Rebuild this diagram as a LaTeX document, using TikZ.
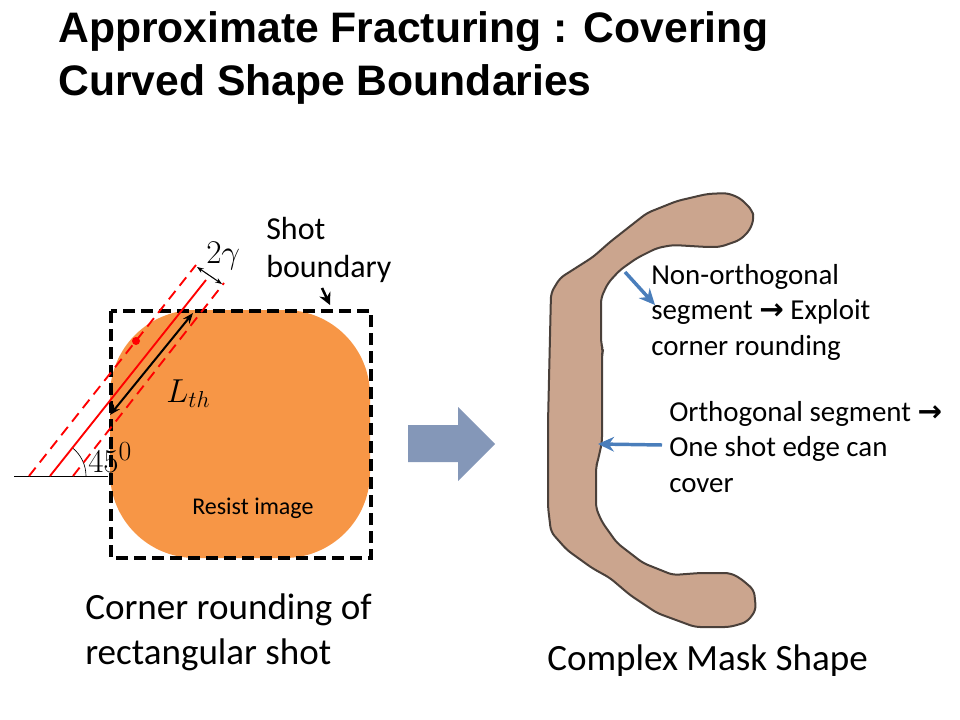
\documentclass[tikz,border=0pt]{standalone}
\usepackage{fontspec}
\setmainfont{Carlito}
\newfontfamily\titlefont{Liberation Sans}
\newfontfamily\arrowfont{DejaVu Sans}
\usepackage{xcolor}
\definecolor{resistorange}{HTML}{F79646}
\definecolor{maskbrown}{HTML}{CBA58E}
\definecolor{maskedge}{HTML}{4A403A}
\definecolor{bigarrow}{HTML}{8497B8}
\definecolor{leaderblue}{HTML}{4A7EBB}
\usetikzlibrary{arrows.meta}
\newcommand{\wingarrow}{{\arrowfont\bfseries\fontsize{22}{20}\selectfont →}}

\begin{document}
\begin{tikzpicture}[x=0.75pt,y=-0.75pt]
	\tikzset{
		titletext/.style={anchor=west,inner sep=0pt,font=\titlefont\bfseries\fontsize{32}{36}\selectfont},
		bodytext/.style={anchor=west,inner sep=0pt,align=left,font=\fontsize{27.8}{33.75}\selectfont},
		smalltext/.style={anchor=west,inner sep=0pt,align=left,font=\fontsize{21.7}{26.6}\selectfont},
		shottext/.style={anchor=west,inner sep=0pt,align=left,font=\fontsize{24}{28.5}\selectfont},
		reddash/.style={draw=red,line width=1.4pt,dash pattern=on 8pt off 5pt},
		leader/.style={draw=leaderblue,line width=2.6pt,-{Stealth[length=12pt,width=11pt]}},
		thinarrow/.style={draw=black,line width=0.8pt,{Stealth[length=5pt]}-{Stealth[length=5pt]}}
	}
	\useasboundingbox (0,0) rectangle (960,720);
	% title
	\node[titletext] (title1) at (58,32) {Approximate Fracturing : Covering};
	\node[titletext] (title2) at (58,84) {Curved Shape Boundaries};
	% resist image and shot
	\fill[resistorange,rounded corners=64pt] (110,310) rectangle (370,558);
	\draw[black,line width=2.5pt,dash pattern=on 9pt off 4.5pt] (111,311) rectangle (371,558);
	\coordinate (horizleft) at (14,476);
	\coordinate (horizright) at (108,476);
	\draw[black,line width=0.6pt] (horizleft) -- (horizright);
	\draw[black,line width=0.5pt] (86,476) arc[start angle=0,end angle=-52,radius=36];
	% red lines
	\coordinate (redlow) at (50,476);
	\coordinate (redhigh) at (206,280);
	\coordinate (dashlow1) at (29,476);
	\coordinate (dashhigh1) at (196,265);
	\coordinate (dashlow2) at (73,476);
	\coordinate (dashhigh2) at (224,283);
	\draw[red,line width=1.4pt] (redlow) -- (redhigh);
	\draw[reddash] (dashlow1) -- (dashhigh1);
	\draw[reddash] (dashlow2) -- (dashhigh2);
	\fill[red] (136,341) circle (3pt);
	\coordinate (lthlow) at (110,415);
	\coordinate (lthhigh) at (193,313);
	\draw[black,line width=1.5pt,{Stealth[length=8pt]}-{Stealth[length=8pt]}] (lthlow) -- (lthhigh);
	\coordinate (gammaleft) at (197,267);
	\coordinate (gammaright) at (222,284);
	\draw[thinarrow] (gammaleft) -- (gammaright);
	\coordinate (shotfrom) at (322,288);
	\coordinate (shotto) at (330,305);
	\draw[black,line width=1.9pt,-{Stealth[length=9pt,width=9pt]}] (shotfrom) -- (shotto);
	% labels left
	\node[shottext] (gamma) at (206,256) {\fontsize{23}{26}\selectfont$2\gamma$};
	\node[shottext] (shot) at (266,250) {Shot\\boundary};
	\node[shottext] (lth) at (166,394) {\fontsize{25}{28}\selectfont$L_{th}$};
	\node[shottext] (angle) at (88,458) {\fontsize{31}{34}\selectfont$45^0$};
	\node[anchor=west,inner sep=0pt,font=\fontsize{18}{20}\selectfont] (resist) at (192,508) {Resist image};
	\node[bodytext] (corner) at (85,632) {Corner rounding of\\rectangular shot};
	% big arrow
	\fill[bigarrow] (408,425) -- (458,425) -- (458,407) -- (495,444) -- (458,481) -- (458,462) -- (408,462) -- cycle;
	% mask
	\draw[fill=maskbrown,draw=maskedge,line width=1.5pt,line join=round,rounded corners=4pt]
		(551,293) -- (560,278) -- (593,257) -- (610,242) -- (638,220) -- (647,213) -- (677,201) -- (707,194)
		-- (727,193) -- (740,198) -- (752,210) -- (754,218) -- (750,230) -- (740,240) -- (720,247) -- (707,247)
		-- (673,245) -- (657,248) -- (637,258) -- (620,270) -- (608,283) -- (601,298) -- (601,343) -- (603,350)
		-- (602,355) -- (602,442) -- (598,460) -- (596,467) -- (596,508) -- (602,522) -- (617,543) -- (643,563)
		-- (673,575) -- (700,573) -- (730,573) -- (740,578) -- (754,590) -- (756,610) -- (747,622) -- (730,627)
		-- (695,627) -- (657,613) -- (630,595) -- (610,578) -- (592,568) -- (567,550) -- (551,532) -- (548,507)
		-- (548,423) -- cycle;
	% labels right
	\node[smalltext] (nonorth) at (651,312) {Non-orthogonal\\segment \wingarrow{} Exploit\\corner rounding};
	\node[smalltext] (orth) at (669,447) {Orthogonal segment \wingarrow\\One shot edge can\\cover};
	\node[bodytext] (mask) at (547,661) {Complex Mask Shape};
	% leaders
	\coordinate (nonorthedge) at (625,272);
	\coordinate (nonorthtip) at (655,305);
	\coordinate (orthtail) at (662,445);
	\coordinate (orthedge) at (598,444);
	\draw[leader] (nonorthedge) -- (nonorthtip);
	\draw[leader] (orthtail) -- (orthedge);
\end{tikzpicture}
\end{document}
